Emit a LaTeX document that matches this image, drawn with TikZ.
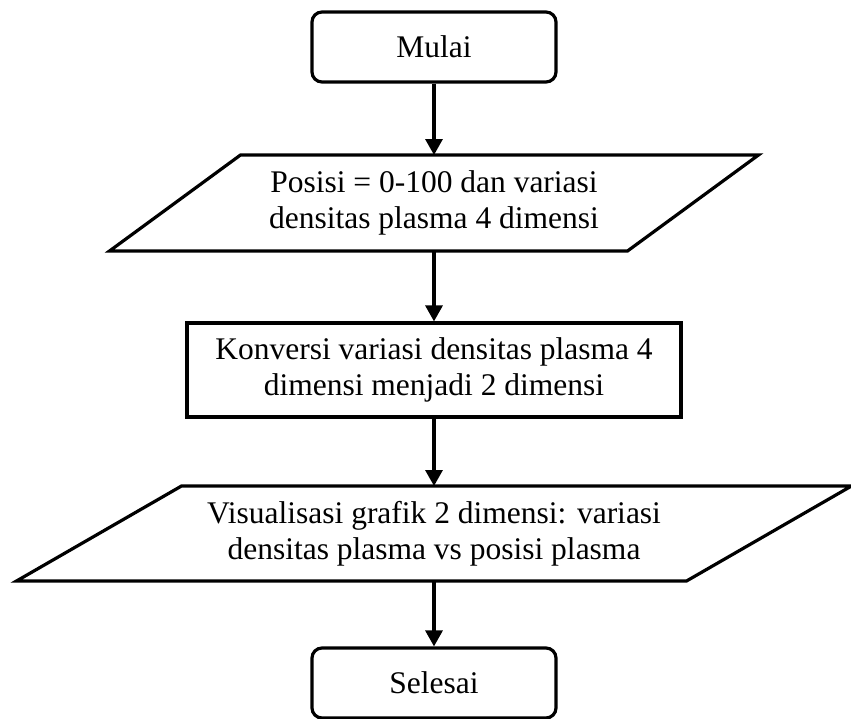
\documentclass[tikz,border=0pt]{standalone}
\usepackage{fontspec}
\setmainfont{Liberation Serif}
\usepackage{tikz}
\usetikzlibrary{arrows.meta}

\begin{document}
\begin{tikzpicture}[x=1pt, y=-1pt,
  font=\fontsize{31.5}{36}\selectfont,
  line/.style={line width=3.2pt, line join=miter},
  terminal/.style={line, draw, rounded corners=10pt, minimum width=244pt, minimum height=70pt, inner sep=0pt},
  process/.style={line, draw, minimum width=494pt, minimum height=94pt, inner sep=0pt, align=center},
  iotext/.style={inner sep=0pt, outer sep=0pt, align=center},
  flow/.style={line, -{Triangle[width=17pt, length=16pt]}}]
\useasboundingbox (0,0) rectangle (851,718);

\node[terminal] (mulai) at (434,47) {Mulai};
\node[iotext, minimum width=518pt, minimum height=96pt] (input) at (434,203) {Posisi = 0-100 dan variasi\\densitas plasma 4 dimensi};
\draw[line] ([xshift=65.5pt]input.north west) -- ([xshift=65.5pt]input.north east) -- ([xshift=-65.5pt]input.south east) -- ([xshift=-65.5pt]input.south west) -- cycle;
\node[process] (konversi) at (434,370) {Konversi variasi densitas plasma 4\\dimensi menjadi 2 dimensi};
\node[iotext, minimum width=670pt, minimum height=95pt] (grafik) at (434,533.5) {Visualisasi grafik 2 dimensi: variasi\\densitas plasma vs posisi plasma};
\draw[line] ([xshift=82.5pt]grafik.north west) -- ([xshift=82.5pt]grafik.north east) -- ([xshift=-82.5pt]grafik.south east) -- ([xshift=-82.5pt]grafik.south west) -- cycle;
\node[terminal] (selesai) at (434,683) {Selesai};

\draw[flow] (mulai) -- (input);
\draw[flow] (input) -- (konversi);
\draw[flow] (konversi) -- (grafik);
\draw[flow] (grafik) -- (selesai);
\end{tikzpicture}
\end{document}
